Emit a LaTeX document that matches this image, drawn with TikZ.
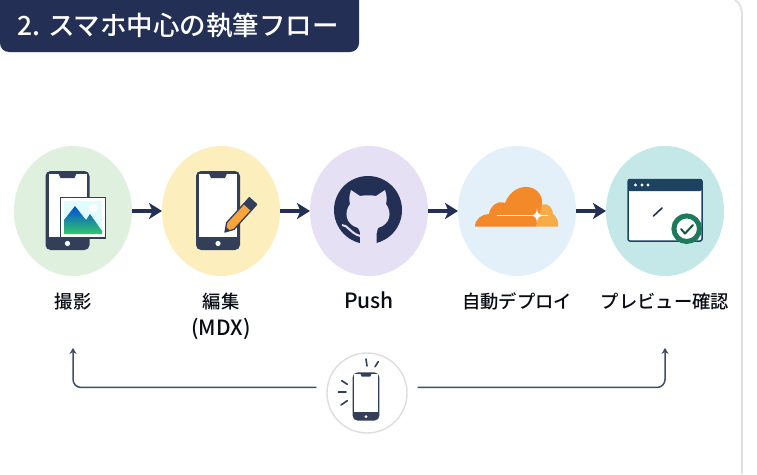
\documentclass[tikz,border=0pt]{standalone}
\usepackage{fontspec}
\setmainfont{Noto Sans CJK JP Medium}
\usetikzlibrary{arrows.meta, positioning, shapes.geometric}
\definecolor{navy}{HTML}{232F55}
\definecolor{ink}{HTML}{333E58}
\definecolor{backline}{HTML}{3F4D6E}
\definecolor{lavender}{HTML}{E5E0F4}
\definecolor{shootbg}{HTML}{E0F0DE}
\definecolor{editbg}{HTML}{FDEEBE}
\definecolor{deploybg}{HTML}{E3F0F9}
\definecolor{previewbg}{HTML}{C4E8E8}
\definecolor{cloudmain}{HTML}{F4892A}
\definecolor{cloudside}{HTML}{F8AC48}
\definecolor{windowbar}{HTML}{1D4262}
\definecolor{badge}{HTML}{1F7A5C}
\tikzset
{
step circle/.style={ellipse, draw=none, inner sep=0pt, outer sep=0pt, minimum width=118pt, minimum height=130pt},
steplabel/.style={font=\fontsize{18.3}{27}\selectfont, text=black!75!navy, align=center, inner sep=0pt},
latin/.style={font=\fontsize{21}{27}\selectfont},
flow/.style={-{Stealth[length=13pt, width=16pt, inset=3.5pt]}, line width=3.6pt, draw=navy},
back/.style={-{Stealth[length=6pt, width=7pt, inset=2pt]}, line width=1.5pt, draw=backline, rounded corners=8pt},
ray/.style={draw=ink, line width=1.6pt, line cap=round},
phone/.pic={
	\fill[ink, rounded corners=5pt] (-22,-39.5) rectangle (22,39.5);
	\fill[white] (-19,-36.5) rectangle (19,26);
	\fill[ink] (-9,-37) -- (9,-37) -- (7,-32.5) -- (-7,-32.5) -- cycle;
	\fill[white] (0,33) circle (2.6pt);
}
}
\begin{document}
\begin{tikzpicture}[x=1pt, y=-1pt]
	\useasboundingbox (0,0) rectangle (757,474);
	\fill[white] (0,0) rectangle (757,474);
	\draw[draw=black!12, line width=1.8pt] (735,0) .. controls (740,3) and (742,8) .. (742,16) -- (742,474);

	% title
	\fill[navy] (0,0) -- (359,0) [rounded corners=9pt] -- (359,52) -- (0,52) [sharp corners] -- (0,0) -- cycle;
	\node[text=white, font=\fontsize{26.5}{26.5}\selectfont, inner sep=0pt] (title) at (178,26) {2. スマホ中心の執筆フロー};

	% steps
	\node[step circle, fill=shootbg] (shoot) at (73,211) {};
	\node[step circle, fill=editbg, right=30pt of shoot] (edit) {};
	\node[step circle, fill=lavender, right=30pt of edit] (push) {};
	\node[step circle, fill=deploybg, right=30pt of push] (deploy) {};
	\node[step circle, fill=previewbg, right=30pt of deploy] (preview) {};

	\node[steplabel, below=16.5pt of shoot] (shootl) {撮影};
	\node[steplabel, below=16.5pt of edit] (editl) {編集\\{\fontsize{21}{27}\selectfont(MDX)}};
	\node[steplabel, latin, below=15.5pt of push] (pushl) {Push};
	\node[steplabel, below=16.5pt of deploy] (deployl) {自動デプロイ};
	\node[steplabel, below=16.5pt of preview] (previewl) {プレビュー確認};

	\path (shoot) edge[flow] (edit) (edit) edge[flow] (push) (push) edge[flow] (deploy) (deploy) edge[flow] (preview);

	% shoot icon
	\pic at (67.5,210.5) {phone};
	\draw[fill=white, draw=ink, line width=1.6pt] (60.5,197.5) rectangle (105.5,238);
	\fill[blue!10!cyan!12!white] (64,201) rectangle (102,234);
	\fill[white] (93.5,208) circle (4.5pt);
	\shade[top color=blue!65!cyan!85!black, bottom color=green!45!teal!80!white] (64,234) -- (64,220) -- (75,206) -- (86,220) -- (90,214) -- (102,231) -- (102,234) -- cycle;

	% edit icon
	\pic at (218,210.5) {phone};
	\filldraw[fill=cloudside!85!orange, draw=ink, line width=1.3pt, line join=round] (225,232) -- (226.7,222.6) -- (244.1,203.5) -- (251.5,210.2) -- (234,229.4) -- cycle;
	\fill[ink] (225,232) -- (226,227) -- (230,230.5) -- cycle;
	\filldraw[fill=ink, draw=ink, line width=1.3pt, line join=round] (244.1,203.5) -- (249.3,197.7) -- (256.7,204.4) -- (251.5,210.2) -- cycle;

	% push icon
	\fill[navy] (368,210) circle (34pt);
	\fill[lavender] (351,190) -- (360,196) .. controls (365,195) and (371,195) .. (376,196) -- (385,190) .. controls (387,196) and (387,200) .. (386,204) .. controls (392,212) and (391,224) .. (378,228) .. controls (377,230) and (376.7,231) .. (376.7,233) -- (376.7,246) -- (360,246) -- (360,233) .. controls (360,231) and (359,230) .. (358,228) .. controls (345,224) and (344,212) .. (350,204) .. controls (349,200) and (349,196) .. (351,190) -- cycle;
	\draw[lavender, line width=2pt] (342,225) .. controls (348,225) and (350,233) .. (360,236);

	% deploy icon
	\fill[cloudside] (536,226.5) -- (541,205) .. controls (548,202) and (553,208) .. (553,214) .. controls (557,217) and (559,222) .. (558,226.5) -- cycle;
	\fill[cloudmain] (475,226.5) .. controls (475,219) and (482,214) .. (489,214) .. controls (490,206) and (498,200) .. (505,203) .. controls (509,192) and (519,186) .. (528,187) .. controls (538,188) and (545,198) .. (541,208) -- (536,226.5) -- cycle;
	\draw[white, line width=1pt] (497,215.5) -- (533,215.5) (541,215.5) -- (548,215.5);
	\fill[white] (537,208) .. controls (537,213) and (539,215) .. (543,215.5) .. controls (539,216) and (537,218) .. (537,223) .. controls (537,218) and (535,216) .. (531,215.5) .. controls (535,215) and (537,213) .. (537,208) -- cycle;

	% preview icon
	\draw[fill=white, draw=windowbar, line width=1.5pt, rounded corners=2pt] (628,179.5) rectangle (702,241);
	\fill[windowbar, rounded corners=2pt] (628,179) rectangle (702,191);
	\fill[white] (635.5,185) circle (1.6pt) (642,185) circle (1.6pt) (648,185) circle (1.6pt);
	\draw[navy, line width=1.6pt, line cap=round] (653.5,216) -- (662,208);
	\filldraw[fill=white, draw=badge, line width=5pt] (686.7,228.7) circle (12.8pt);
	\draw[badge!70!black, line width=2pt, line cap=round, line join=round] (681,229) -- (685,233.5) -- (693,225);

	% phone at the bottom
	\node[circle, draw=black!13, fill=white, line width=1.4pt, minimum size=80pt, inner sep=0pt, outer sep=0pt] (hub) at (367,393) {};
	\pic[scale=0.61] at (366,396.5) {phone};
	\draw[ray] (341.7,380.7) -- (347.3,384.3) (338.3,392) -- (346,392) (341,405) -- (347.3,400.7) (366,359) -- (367,366) (378.3,361.7) -- (375,366.7);

	\draw[back, shorten <=11pt, shorten >=38pt] (hub.172) -| (shootl.south);
	\draw[back, shorten <=11pt, shorten >=38pt] (hub.8) -| (previewl.south);
\end{tikzpicture}
\end{document}
